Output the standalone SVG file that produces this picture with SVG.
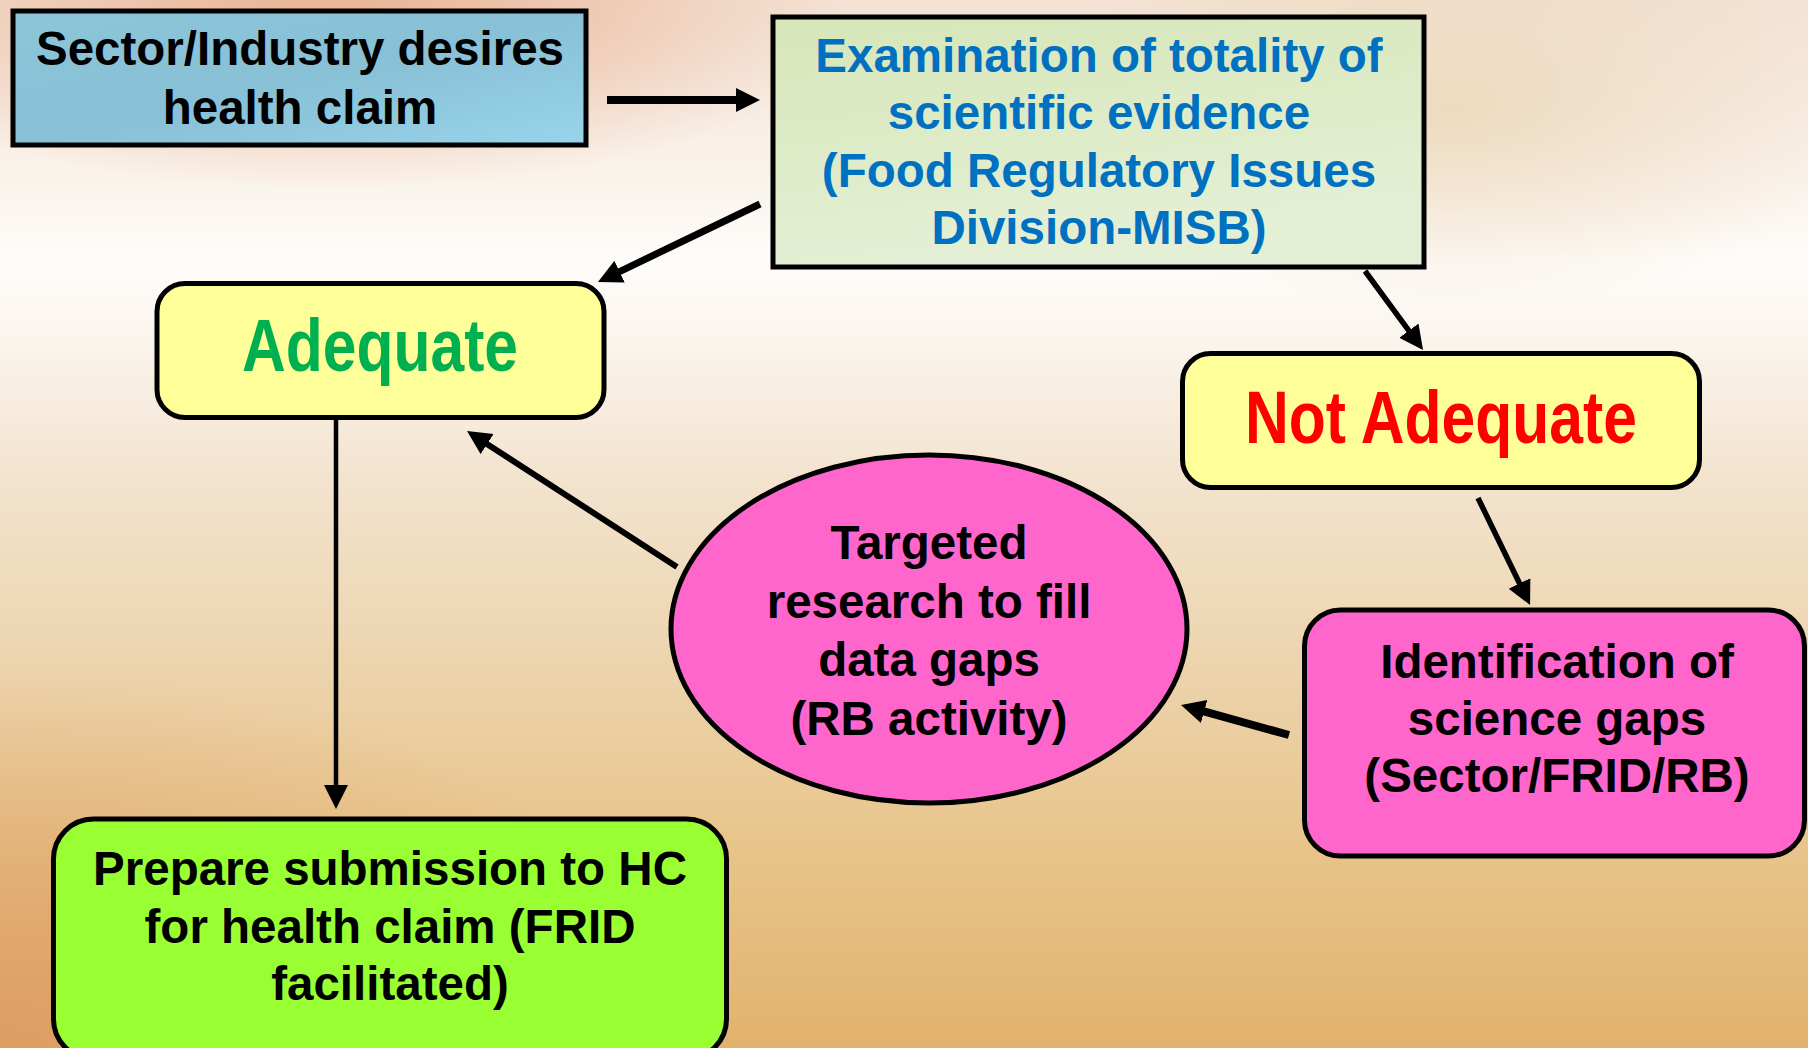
<svg xmlns="http://www.w3.org/2000/svg" width="1808" height="1048" viewBox="0 0 1808 1048">
<style>
  .t { font-family: "Liberation Sans", Arial, sans-serif; font-weight: bold; text-anchor: middle; }
  .blk { fill: #000; font-size: 47.5px; }
  .blue { fill: #0070c0; font-size: 47.5px; }
  .box { stroke: #000; stroke-width: 5; }
  .conn { stroke: #000; fill: none; marker-end: url(#ah); }
</style>
<defs>
  <linearGradient id="bg" x1="0" y1="0" x2="0" y2="1">
    <stop offset="0" stop-color="#f3e2d4"/>
    <stop offset="0.17" stop-color="#faf3ec"/>
    <stop offset="0.25" stop-color="#fefcfa"/>
    <stop offset="0.32" stop-color="#fbf5ee"/>
    <stop offset="0.45" stop-color="#f3e4d0"/>
    <stop offset="0.62" stop-color="#edd5b0"/>
    <stop offset="0.8" stop-color="#e8c58c"/>
    <stop offset="1" stop-color="#e2b26c"/>
  </linearGradient>
  <radialGradient id="blobOrange" cx="0.5" cy="0.5" r="0.5">
    <stop offset="0" stop-color="#e6a07c" stop-opacity="0.75"/>
    <stop offset="1" stop-color="#e6a07c" stop-opacity="0"/>
  </radialGradient>
  <radialGradient id="blobWheat" cx="0.5" cy="0.5" r="0.5">
    <stop offset="0" stop-color="#e9d3b0" stop-opacity="0.7"/>
    <stop offset="1" stop-color="#e9d3b0" stop-opacity="0"/>
  </radialGradient>
  <radialGradient id="blobBL" cx="0.5" cy="0.5" r="0.5">
    <stop offset="0" stop-color="#dc9860" stop-opacity="0.8"/>
    <stop offset="1" stop-color="#dc9860" stop-opacity="0"/>
  </radialGradient>
  <linearGradient id="gSector" x1="0" y1="0" x2="1" y2="1">
    <stop offset="0" stop-color="#8cc6d8"/>
    <stop offset="0.5" stop-color="#88c0d6"/>
    <stop offset="1" stop-color="#98d4ea"/>
  </linearGradient>
  <linearGradient id="gExam" x1="0" y1="0" x2="0.3" y2="1">
    <stop offset="0" stop-color="#d6e6b8"/>
    <stop offset="1" stop-color="#e4f0d6"/>
  </linearGradient>
  <marker id="ah" markerUnits="userSpaceOnUse" markerWidth="26" markerHeight="26" refX="4" refY="12" orient="auto" viewBox="0 0 26 26">
    <path d="M0,0 L24,12 L0,24 z" fill="#000"/>
  </marker>
</defs>

<g id="background">
  <rect x="0" y="0" width="1808" height="1048" fill="url(#bg)"/>
  <ellipse cx="330" cy="20" rx="520" ry="170" fill="url(#blobOrange)"/>
  <ellipse cx="1450" cy="110" rx="420" ry="200" fill="url(#blobWheat)"/>
  <ellipse cx="0" cy="1048" rx="700" ry="380" fill="url(#blobBL)"/>
</g>

<g id="connectors">
  <line class="conn" x1="607" y1="100" x2="740" y2="100" stroke-width="8"/>
  <line class="conn" x1="760" y1="204" x2="616" y2="273.3" stroke-width="7"/>
  <line class="conn" x1="1365" y1="271" x2="1411.2" y2="333.9" stroke-width="5.5"/>
  <line class="conn" x1="1478" y1="498" x2="1521.3" y2="587" stroke-width="5.5"/>
  <line class="conn" x1="1289" y1="735" x2="1200.3" y2="710.4" stroke-width="8"/>
  <line class="conn" x1="677" y1="567" x2="483.8" y2="441.9" stroke-width="6"/>
  <line class="conn" x1="336" y1="420" x2="336" y2="789" stroke-width="4.5"/>
</g>

<g id="node-sector">
  <rect class="box" x="13" y="11" width="573" height="134" fill="url(#gSector)" stroke-width="6"/>
  <text class="t blk" x="300" y="65">Sector/Industry desires</text>
  <text class="t blk" x="300" y="124">health claim</text>
</g>

<g id="node-exam">
  <rect class="box" x="773" y="17" width="651" height="250" fill="url(#gExam)" stroke-width="5"/>
  <text class="t blue" x="1099" y="72">Examination of totality of</text>
  <text class="t blue" x="1099" y="129">scientific evidence</text>
  <text class="t blue" x="1099" y="187">(Food Regulatory Issues</text>
  <text class="t blue" x="1099" y="244">Division-MISB)</text>
</g>

<g id="node-adequate">
  <rect class="box" x="157" y="283.5" width="447" height="134" rx="28" ry="28" fill="#ffff99"/>
  <text class="t" x="380" y="371" font-size="74" fill="#00b050" textLength="276" lengthAdjust="spacingAndGlyphs">Adequate</text>
</g>

<g id="node-not-adequate">
  <rect class="box" x="1182.5" y="353.5" width="517" height="134" rx="28" ry="28" fill="#ffff99"/>
  <text class="t" x="1441" y="443" font-size="74" fill="#ff0000" textLength="392" lengthAdjust="spacingAndGlyphs">Not Adequate</text>
</g>

<g id="node-targeted">
  <ellipse class="box" cx="929" cy="629" rx="258" ry="174" fill="#ff66cc"/>
  <text class="t blk" x="929" y="559">Targeted</text>
  <text class="t blk" x="929" y="618">research to fill</text>
  <text class="t blk" x="929" y="676">data gaps</text>
  <text class="t blk" x="929" y="735">(RB activity)</text>
</g>

<g id="node-identification">
  <rect class="box" x="1304.5" y="610" width="500" height="246" rx="36" ry="36" fill="#ff66cc"/>
  <text class="t blk" x="1557" y="678">Identification of</text>
  <text class="t blk" x="1557" y="735">science gaps</text>
  <text class="t blk" x="1557" y="792">(Sector/FRID/RB)</text>
</g>

<g id="node-prepare">
  <rect class="box" x="53.5" y="819" width="673" height="240" rx="40" ry="40" fill="#99ff33"/>
  <text class="t blk" x="390" y="885">Prepare submission to HC</text>
  <text class="t blk" x="390" y="943">for health claim (FRID</text>
  <text class="t blk" x="390" y="1000">facilitated)</text>
</g>
</svg>
